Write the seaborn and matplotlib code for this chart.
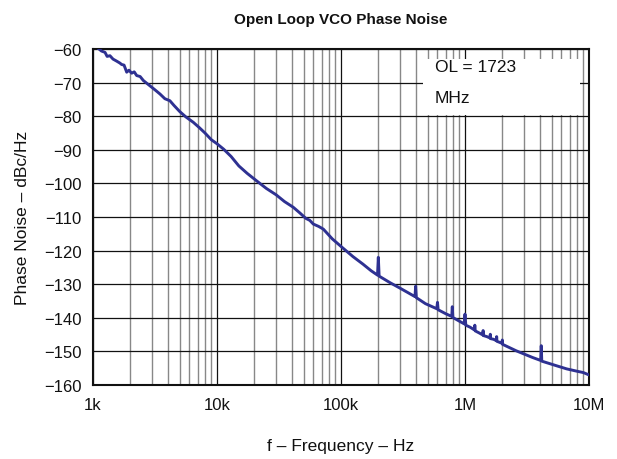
import matplotlib
matplotlib.use("Agg")
import matplotlib.pyplot as plt
from matplotlib.ticker import FixedLocator, LogLocator, NullFormatter, FixedFormatter
from matplotlib.patches import Rectangle
import seaborn as sns
import pandas as pd
import numpy as np

# ---- data ----
freq_hz = [1100, 1170, 1250, 1300, 1370, 1450, 1550, 1650, 1700, 1780, 1870, 1950,
           2050, 2150, 2250, 2400, 2550, 2800, 3100, 3470, 3800, 4170, 4500, 5000,
           5600, 6430, 7200, 8000, 9000, 10000, 11300, 13000, 15000, 17500, 20800,
           25000, 30000, 35000, 41200, 46600, 52000, 56000, 59800, 66000, 72000,
           85000, 104000, 125000, 150000, 175000, 197000, 200000, 203000, 250000,
           300000, 350000, 395000, 400000, 405000, 480000, 592000, 600000, 607000,
           700000, 782000, 790000, 798000, 900000, 985000, 1000000, 1015000,
           1100000, 1190000, 1200000, 1210000, 1300000, 1390000, 1400000, 1410000,
           1500000, 1590000, 1600000, 1610000, 1700000, 1790000, 1800000, 1810000,
           1900000, 1990000, 2000000, 2010000, 2580000, 3500000, 4080000, 4120000,
           4160000, 5500000, 6600000, 8000000, 9000000, 10000000]
noise_dbc = [-59.8, -60.6, -61.0, -62.2, -62.0, -63.0, -63.6, -64.2, -64.6, -64.8,
             -66.9, -66.3, -67.2, -66.8, -67.9, -68.2, -69.4, -70.6, -71.9, -73.4,
             -74.8, -75.4, -76.8, -78.6, -80.2, -81.8, -83.4, -85.0, -87.0, -88.2,
             -89.8, -92.0, -94.8, -97.0, -99.2, -101.5, -103.4, -105.4, -107.1,
             -108.8, -110.4, -111.0, -112.1, -112.8, -113.6, -116.5, -119.3, -121.8,
             -124.0, -126.0, -127.3, -122.0, -127.6, -129.6, -131.2, -132.6, -133.7,
             -130.6, -134.0, -135.8, -137.3, -135.4, -137.6, -138.8, -139.6, -136.7,
             -139.9, -141.0, -141.8, -138.9, -142.2, -142.8, -143.6, -142.2, -143.9,
             -144.5, -145.1, -143.8, -145.3, -145.6, -146.0, -144.9, -146.2, -146.4,
             -146.8, -145.6, -147.0, -147.3, -147.6, -146.6, -147.9, -149.8, -151.8,
             -152.7, -148.3, -152.9, -154.3, -155.2, -155.9, -156.3, -157.0]

x_ticks = [1e3, 1e4, 1e5, 1e6, 1e7]
x_tick_labels = ["1k", "10k", "100k", "1M", "10M"]
y_ticks = [-60, -70, -80, -90, -100, -110, -120, -130, -140, -150, -160]
y_tick_labels = ["\u221260", "\u221270", "\u221280", "\u221290", "\u2212100", "\u2212110",
                 "\u2212120", "\u2212130", "\u2212140", "\u2212150", "\u2212160"]

title = "Open Loop VCO Phase Noise"
x_label = "f \u2013 Frequency \u2013 Hz"
y_label = "Phase Noise \u2013 dBc/Hz"
note_lines = ["OL = 1723", "MHz"]

# ---- plot ----
sns.set_style("white")
plt.rcParams["font.family"] = ["Liberation Sans", "DejaVu Sans"]

fig = plt.figure(figsize=(6.17, 4.60), dpi=100)
ax = fig.add_axes([93 / 617, 1 - 386 / 460, (589 - 93) / 617, (386 - 50) / 460])

df = pd.DataFrame({"freq": freq_hz, "noise": noise_dbc})
sns.lineplot(data=df, x="freq", y="noise", ax=ax, color="#2E3192", lw=2.1,
             sort=False, estimator=None, zorder=5)

ax.set_xscale("log")
ax.set_xlim(1e3, 1e7)
ax.set_ylim(-160, -60)

ax.xaxis.set_major_locator(FixedLocator(x_ticks))
ax.xaxis.set_major_formatter(FixedFormatter(x_tick_labels))
ax.xaxis.set_minor_locator(LogLocator(base=10, subs=np.arange(2, 10)))
ax.xaxis.set_minor_formatter(NullFormatter())
ax.yaxis.set_major_locator(FixedLocator(y_ticks))
ax.yaxis.set_major_formatter(FixedFormatter(y_tick_labels))

ax.grid(True, which="major", axis="both", color="#111111", lw=0.9, zorder=1)
ax.grid(True, which="minor", axis="x", color="#888888", lw=1.0, zorder=1)
ax.set_axisbelow(True)

ax.tick_params(axis="both", which="both", length=0, labelsize=12, colors="#111111")
ax.tick_params(axis="x", pad=9)
ax.tick_params(axis="y", pad=8)

for s in ax.spines.values():
    s.set_color("#111111")
    s.set_linewidth(1.5)

ax.set_xlabel(x_label, fontsize=12.5, labelpad=18, color="#111111")
ax.set_ylabel(y_label, fontsize=12.5, labelpad=10, color="#111111")
ax.set_title(title, fontsize=11, fontweight="bold", pad=19, color="#111111")

# white note box masking the grid
bx0 = (423 - 93) / 496
bx1 = (580 - 93) / 496
by1 = (386 - 60) / 336
by0 = (386 - 116) / 336
ax.add_patch(Rectangle((bx0, by0), bx1 - bx0, by1 - by0, transform=ax.transAxes,
                       facecolor="white", edgecolor="none", zorder=3))
for i, line in enumerate(note_lines):
    ax.text((435 - 93) / 496, (386 - (68 + 31 * i)) / 336, line, transform=ax.transAxes,
            fontsize=12.5, va="center", ha="left", color="#111111", zorder=4)

fig.savefig("out.png", dpi=100, facecolor="white")
